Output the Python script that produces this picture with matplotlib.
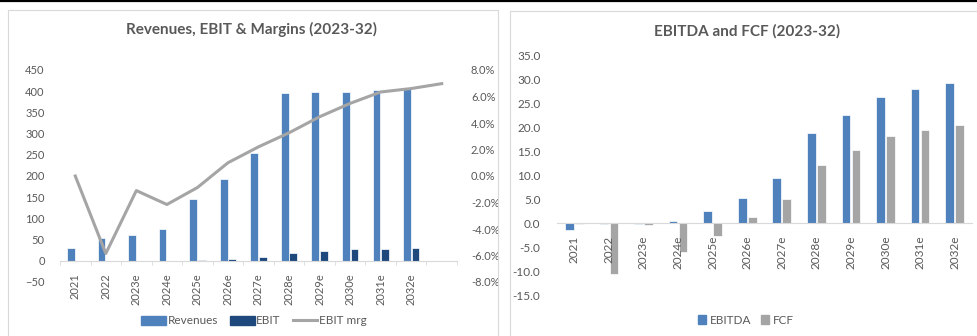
import numpy as np
import matplotlib
matplotlib.use('Agg')
from matplotlib import pyplot as plt
from matplotlib.patches import Rectangle, Patch
from matplotlib.lines import Line2D
from matplotlib.ticker import FuncFormatter

# revenues / ebit / margin chart (13th slot has only the margin point)
years_l = ['2021', '2022', '2023e', '2024e', '2025e', '2026e', '2027e',
           '2028e', '2029e', '2030e', '2031e', '2032e', '']
revenues = [30, 54, 61, 75, 146, 194, 255, 395, 397, 398, 402, 407]
ebit = [-0.5, -1.5, -0.7, -1.0, 1.5, 5.0, 9.5, 19, 22, 27, 28, 30]
ebit_mrg = [0.0, -5.85, -1.1, -2.15, -0.87, 1.0, 2.2, 3.26, 4.47, 5.48, 6.34, 6.6, 6.97]

# ebitda / fcf chart
years_r = ['2021', '2022', '2023e', '2024e', '2025e', '2026e', '2027e',
           '2028e', '2029e', '2030e', '2031e', '2032e']
ebitda = [-1.3, -0.2, -0.2, 0.55, 2.6, 5.2, 9.4, 18.8, 22.7, 26.5, 28.0, 29.4]
fcf = [-0.1, -10.7, -0.4, -5.9, -2.7, 1.3, 5.0, 12.1, 15.4, 18.3, 19.5, 20.6]

BLUE = '#4F81BD'
NAVY = '#1F497D'
GREY = '#A5A5A5'
TXT = '#595959'
AXC = '#D9D9D9'

plt.rcParams['font.family'] = ['Lato', 'DejaVu Sans']

W, H = 977, 336
fig = plt.figure(figsize=(W / 100, H / 100), dpi=100)

def fx(px):
    return px / W

def fy(py):
    return 1 - py / H

# frame line on top and the two chart boxes
fig.add_artist(Line2D([0, 1], [fy(0.7), fy(0.7)], color='black', lw=1.6))
fig.add_artist(Rectangle((fx(8), fy(345)), fx(498) - fx(8), fy(10) - fy(345),
                         fill=False, ec=AXC, lw=0.8))
fig.add_artist(Rectangle((fx(510), fy(345)), fx(990) - fx(510), fy(11) - fy(345),
                         fill=False, ec=AXC, lw=0.8))

# ---------- left chart ----------
ax = fig.add_axes([fx(60), fy(282), fx(457) - fx(60), fy(70) - fy(282)])
x = np.arange(len(years_l))
xb = np.arange(len(revenues))
bw = 0.25
ax.bar(xb - 0.14, revenues, bw, color=BLUE, ec='white', lw=0.5, zorder=2)
ax.bar(xb + 0.14, ebit, bw, color=NAVY, ec='white', lw=0.5, zorder=2)
ax.set_xlim(-0.5, len(years_l) - 0.5)
ax.set_ylim(-50, 450)
ax.set_yticks(np.arange(-50, 451, 50))
for s in ['top', 'right', 'left']:
    ax.spines[s].set_visible(False)
ax.spines['bottom'].set_position(('data', 0))
ax.spines['bottom'].set_color(AXC)
ax.set_xticks(x)
ax.set_xticklabels(years_l, rotation=90)
ax.set_xticks(np.arange(-0.5, len(years_l), 1), minor=True)
ax.tick_params(axis='x', which='major', length=0, pad=9, labelsize=8, labelcolor=TXT)
ax.tick_params(axis='x', which='minor', length=3, color=AXC)
ax.tick_params(axis='y', length=0, pad=11, labelsize=8, labelcolor=TXT)

ax2 = ax.twinx()
ax2.plot(x, ebit_mrg, color=GREY, lw=2.2, zorder=3)
ax2.set_ylim(-8, 8)
ax2.set_yticks(np.arange(-8, 8.1, 2))
ax2.yaxis.set_major_formatter(FuncFormatter(lambda v, p: '{:.1f}%'.format(v)))
for s in ax2.spines.values():
    s.set_visible(False)
ax2.tick_params(axis='y', length=0, pad=10, labelsize=8, labelcolor=TXT)

fig.text(fx(252), fy(29), 'Revenues, EBIT & Margins (2023-32)', ha='center',
         va='center', fontsize=11, fontweight='bold', color=TXT)
handles = [Patch(color=BLUE), Patch(color=NAVY), Line2D([], [], color=GREY, lw=2.2)]
fig.legend(handles, ['Revenues', 'EBIT', 'EBIT mrg'], loc='center',
           bbox_to_anchor=(fx(254), fy(321)), ncol=3, frameon=False,
           fontsize=8.5, labelcolor=TXT, handlelength=2.1, handleheight=0.8,
           handletextpad=0.15, columnspacing=1.0)

# ---------- right chart ----------
bx = fig.add_axes([fx(557), fy(295), fx(972) - fx(557), fy(56) - fy(295)])
xr = np.arange(len(years_r))
bw2 = 0.25
bx.bar(xr - 0.145, ebitda, bw2, color=BLUE, ec='white', lw=0.5, zorder=2)
bx.bar(xr + 0.145, fcf, bw2, color=GREY, ec='white', lw=0.5, zorder=2)
bx.set_axisbelow(False)  # year labels sit on top of the negative bars
bx.set_xlim(-0.5, len(years_r) - 0.5)
bx.set_ylim(-15, 35)
bx.set_yticks(np.arange(-15, 35.1, 5))
bx.yaxis.set_major_formatter(FuncFormatter(lambda v, p: '{:.1f}'.format(v)))
for s in ['top', 'right', 'left']:
    bx.spines[s].set_visible(False)
bx.spines['bottom'].set_position(('data', 0))
bx.spines['bottom'].set_color(AXC)
bx.set_xticks(xr)
bx.set_xticklabels(years_r, rotation=90)
bx.tick_params(axis='x', length=0, pad=9, labelsize=8.5, labelcolor=TXT)
bx.tick_params(axis='y', length=0, pad=12, labelsize=8.5, labelcolor=TXT)

fig.text(fx(747), fy(31), 'EBITDA and FCF (2023-32)', ha='center',
         va='center', fontsize=11, fontweight='bold', color=TXT)
fig.legend([Patch(color=BLUE), Patch(color=GREY)], ['EBITDA', 'FCF'], loc='center',
           bbox_to_anchor=(fx(746), fy(320)), ncol=2, frameon=False,
           fontsize=8.5, labelcolor=TXT, handlelength=0.7, handleheight=0.8,
           handletextpad=0.3, columnspacing=0.8)

fig.savefig('out.png', dpi=100)
